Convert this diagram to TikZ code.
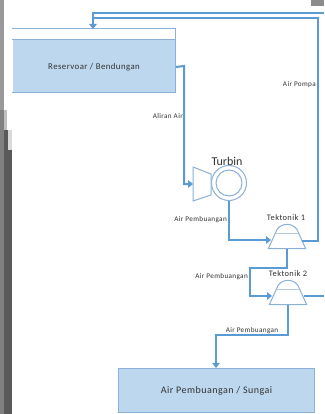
\documentclass[tikz,border=0pt]{standalone}
\usepackage{fontspec}
\setmainfont{Carlito}
\newfontfamily\spaced[LetterSpace=5]{Carlito}
\usetikzlibrary{arrows.meta,calc}
\definecolor{pipe}{RGB}{91,155,213}
\definecolor{edge}{RGB}{141,176,214}
\definecolor{fillb}{RGB}{189,215,238}
\definecolor{ink}{RGB}{50,50,50}
\tikzset{
  pipeline/.style={draw=pipe,line width=2pt},
  flow/.style={pipeline,-{Triangle[length=5pt,width=7.5pt]}},
  tankbox/.style={draw=edge,line width=1pt,fill=fillb,inner sep=0,text=ink},
  part/.style={draw=edge,line width=1pt,fill=white},
  lbl/.style={font=\spaced\fontsize{7.2pt}{8pt}\selectfont,text=ink,inner sep=0},
  bigl/.style={font=\spaced\fontsize{8.4pt}{9pt}\selectfont,text=ink,inner sep=0},
  trapframe/.style={minimum width=37pt,minimum height=15pt,inner sep=0},
}
\newcommand{\tekshape}[1]{%
  \draw[part] (#1.south west) -- (#1.south east) -- ($(#1.north east)+(-7,0)$) -- ($(#1.north west)+(7,0)$) -- cycle;
  \draw[part] ($(#1.north west)+(7,0)$) .. controls +(3,-12) and +(-3,-12) .. ($(#1.north east)+(-7,0)$);
}
\begin{document}
\begin{tikzpicture}[x=1pt,y=-1pt]
\useasboundingbox (0,0) rectangle (324,414);
\fill[white] (0,0) rectangle (324,414);
\fill[black!40] (0,0) rectangle (4,110);
\fill[black!50] (0,110) rectangle (4,414);
\fill[black!25] (4,110) rectangle (7,130);
\fill[black!65] (4,130) rectangle (12,414);
\fill[black!15] (8,130) rectangle (12,150);
\fill[black!45] (311,0) rectangle (324,6);
% reservoir
\draw[draw=edge,line width=1pt,fill=white] (12,29) -- (175,29) -- (175,40);
\node[tankbox,minimum width=163pt,minimum height=53pt,anchor=north west,draw=none,font=\spaced\fontsize{8.8pt}{10pt}\selectfont] (res) at (12,40) {Reservoar / Bendungan};
\draw[draw=edge,line width=1pt] (12,40) -- (175,40) -- (175,93) -- (12,93);
\node[tankbox,minimum width=196pt,minimum height=44pt,anchor=north west,font=\spaced\fontsize{10pt}{11pt}\selectfont] (sink) at (118,368) {Air Pembuangan / Sungai};
% turbine
\node[part,circle,minimum size=35pt,inner sep=0] (wheel) at (229,183) {};
\node[part,circle,minimum size=26pt,inner sep=0] (wheelin) at (229,183) {};
\draw[part] (193,167) -- (211,174) -- (211,195) -- (193,201) -- cycle;
\coordinate (turbin) at (193,184);
\node[bigl,font=\fontsize{12pt}{13pt}\selectfont] (tl) at (227,161) {Turbin};
% tectonics
\node[trapframe] (t1) at (287,241) {};
\tekshape{t1}
\node[trapframe] (t2) at (288,297) {};
\tekshape{t2}
\node[bigl] (t1l) at (286,218) {Tektonik 1};
\node[bigl] (t2l) at (288,274) {Tektonik 2};
\coordinate (topR) at (324,13);
\coordinate (botR) at (324,296);
\coordinate (resTop) at (93,29);
% pipes
\draw[flow] (topR) -- (93,13) -- (resTop);
\draw[pipeline] (93,18) -- (318,18) -- (318,241) -- (302,241);
\draw[flow] (res.east) -- (184,66) -- (184,184) -- (turbin);
\draw[flow] (wheel.south) -- (229,240) -- (271,240);
\draw[flow] (t1.south) -- (287,268) -- (250,268) -- (250,296) -- (272,296);
\draw[pipeline] (304,296) -- (botR);
\draw[flow] (t2.south) -- (288,335) -- (216,335) -- (216,368);
% labels
\node[lbl,anchor=east] (a1) at (183,116) {Aliran Air};
\node[lbl,anchor=east] (a2) at (316,85) {Air Pompa};
\node[lbl,anchor=east] (a3) at (227,220) {Air Pembuangan};
\node[lbl,anchor=east] (a4) at (248,277) {Air Pembuangan};
\node[lbl] (a5) at (252,331) {Air Pembuangan};
\end{tikzpicture}
\end{document}
